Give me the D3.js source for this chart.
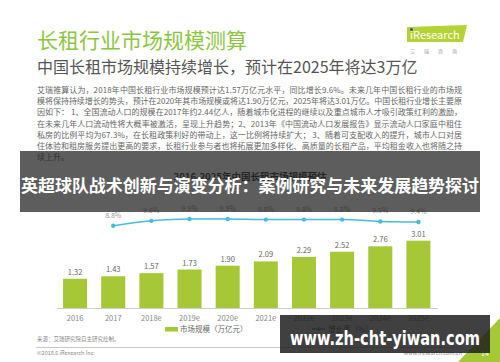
<!DOCTYPE html>
<html>
<head>
<meta charset="utf-8">
<script src="https://cdn.jsdelivr.net/npm/d3@7"></script>
<style>
  body { margin: 0; background: #fff; }
  svg { display: block; }
</style>
</head>
<body>
<div id="chart"></div>
<script>
const width = 500;
const height = 362;
const fontFamily = `"Noto Sans CJK SC", "Noto Sans", sans-serif`;

// chart data
const years = ["2016", "2017", "2018e", "2019e", "2020e", "2021e", "2022e", "2023e", "2024e", "2025e"];
const marketSize = [1.32, 1.43, 1.57, 1.73, 1.90, 2.09, 2.29, 2.52, 2.76, 3.01];
const growthYears = ["2017", "2018e", "2019e", "2020e", "2021e", "2022e", "2023e", "2024e", "2025e"];
const growthRate = [8.8, 9.6, 9.9, 9.9, 9.8, 9.8, 9.8, 9.5, 9.4];

const paragraph = [
  "艾瑞推算认为，2018年中国长租行业市场规模预计达1.57万亿元水平，同比增长9.6%。未来几年中国长租行业的市场规",
  "模将保持持续增长的势头，预计在2020年其市场规模或将达1.90万亿元，2025年将达3.01万亿。中国长租行业增长主要原",
  "因如下： 1、全国流动人口的规模在2017年约2.44亿人，随着城市化进程的继续以及重点城市人才吸引政策红利的激励，",
  "在未来几年人口流动性将大概率被激活，呈现上升趋势；2、2013年《中国流动人口发展报告》显示流动人口家庭中租住",
  "私房的比例平均为67.3%，在长租政策利好的带动上，这一比例将持续扩大； 3、随着可支配收入的提升，城市人口对居",
  "住体验和租房服务提出更高的要求，长租行业参与者也将拓展更加多样化、高质量的长租产品，平均租金收入也将随之持",
  "续上升。",
];

const green = "#a6c836";
const blue = "#45bde0";

const svg = d3.select("#chart")
  .append("svg")
  .attr("width", width)
  .attr("height", height)
  .attr("font-family", fontFamily);

svg.append("rect").attr("width", width).attr("height", height).attr("fill", "#fff");

// header
svg.append("text")
  .attr("x", 37).attr("y", 48)
  .attr("font-size", 21)
  .attr("fill", "#8cc63f")
  .text("长租行业市场规模测算");

svg.append("text")
  .attr("x", 37).attr("y", 73)
  .attr("font-size", 16)
  .attr("fill", "#555")
  .text("中国长租市场规模持续增长，预计在2025年将达3万亿");

// iResearch logo
const logo = svg.append("g").attr("transform", "translate(407, 27)");
logo.append("path")
  .attr("d", "M0,0 L60,-2 L56,15 L0,15 Z")
  .attr("fill", "#b5d334");
logo.append("text")
  .attr("x", 3).attr("y", 12)
  .attr("font-size", 11)
  .attr("fill", "#fff")
  .text("iResearch");
logo.append("circle").attr("cx", 4.5).attr("cy", 2.5).attr("r", 1.5).attr("fill", "#1a5fa8");
logo.append("text")
  .attr("x", 3).attr("y", 26)
  .attr("font-size", 5)
  .attr("fill", "#999")
  .attr("letter-spacing", 9)
  .text("艾瑞咨询");

// body paragraph
svg.append("g")
  .attr("font-size", 8)
  .attr("fill", "#666")
  .selectAll("text")
  .data(paragraph)
  .enter()
  .append("text")
  .attr("x", 37)
  .attr("y", (d, i) => 93 + i * 11.2)
  .attr("textLength", (d, i) => (i < paragraph.length - 1 ? 425 : null))
  .attr("lengthAdjust", "spacing")
  .text((d) => d);

// chart title
svg.append("text")
  .attr("x", 250).attr("y", 180)
  .attr("text-anchor", "middle")
  .attr("font-size", 9.5)
  .attr("font-weight", "bold")
  .attr("fill", "#333")
  .text("2016-2025年中国长租市场规模预估");

// scales
const x = d3.scaleBand()
  .domain(years)
  .range([56, 437.5])
  .paddingInner(0.37)
  .paddingOuter(0.185);

const y = d3.scaleLinear()
  .domain([0, 3.01])
  .range([308.5, 240.7]);

const yGrowth = d3.scaleLinear()
  .domain([8.8, 9.9])
  .range([225.7, 219]);

const cx = (d) => x(d) + x.bandwidth() / 2;

// bars
svg.append("g")
  .selectAll("rect")
  .data(marketSize)
  .enter()
  .append("rect")
  .attr("x", (d, i) => x(years[i]))
  .attr("y", (d) => y(d))
  .attr("width", x.bandwidth())
  .attr("height", (d) => y(0) - y(d))
  .attr("fill", green);

svg.append("g")
  .attr("font-size", 7.5)
  .attr("fill", "#666")
  .attr("text-anchor", "middle")
  .selectAll("text")
  .data(marketSize)
  .enter()
  .append("text")
  .attr("x", (d, i) => cx(years[i]))
  .attr("y", (d) => y(d) - 4)
  .text((d) => d.toFixed(2));

// x axis
const xAxis = svg.append("g")
  .attr("transform", `translate(0, ${y(0)})`)
  .call(d3.axisBottom(x).tickSize(0).tickPadding(7));
xAxis.select(".domain").attr("stroke", "#ccc").attr("d", "M1,0H382").attr("transform", "translate(56,0)");
xAxis.selectAll("text")
  .attr("font-family", fontFamily)
  .attr("font-size", 7.5)
  .attr("fill", "#888");

// growth line
const line = d3.line()
  .x((d, i) => cx(growthYears[i]))
  .y((d) => yGrowth(d))
  .curve(d3.curveMonotoneX);

svg.append("path")
  .datum(growthRate)
  .attr("d", line)
  .attr("fill", "none")
  .attr("stroke", blue)
  .attr("stroke-width", 1.5);

svg.append("g")
  .selectAll("circle")
  .data(growthRate)
  .enter()
  .append("circle")
  .attr("cx", (d, i) => cx(growthYears[i]))
  .attr("cy", (d) => yGrowth(d))
  .attr("r", 2.2)
  .attr("fill", blue);

svg.append("g")
  .attr("font-size", 7)
  .attr("fill", "#999")
  .attr("text-anchor", "middle")
  .selectAll("text")
  .data(growthRate)
  .enter()
  .append("text")
  .attr("x", (d, i) => cx(growthYears[i]))
  .attr("y", (d) => yGrowth(d) - 8)
  .text((d) => d.toFixed(1) + "%");

// legend
const legend = svg.append("g").attr("font-size", 7.5).attr("fill", "#666");
legend.append("rect").attr("x", 165).attr("y", 327).attr("width", 13).attr("height", 4.5).attr("fill", green);
legend.append("text").attr("x", 180).attr("y", 332).text("市场规模（万亿元）");
legend.append("line").attr("x1", 312).attr("x2", 326).attr("y1", 329).attr("y2", 329)
  .attr("stroke", blue).attr("stroke-width", 1.5);
legend.append("circle").attr("cx", 319).attr("cy", 329).attr("r", 2).attr("fill", blue);
legend.append("text").attr("x", 328).attr("y", 332).text("增长率（%）");

// footer
const footer = svg.append("g").attr("font-size", 5.5).attr("fill", "#888");
footer.append("text").attr("x", 37).attr("y", 341).text("来源：艾瑞研究院自主研究绘制。");
footer.append("line").attr("x1", 36).attr("x2", 463).attr("y1", 347.5).attr("y2", 347.5)
  .attr("stroke", "#bbb").attr("stroke-width", 0.8);
footer.append("text").attr("x", 37).attr("y", 355).text("©2018.6 iResearch Inc");
footer.append("text").attr("x", 462).attr("y", 355).attr("text-anchor", "end").text("www.iresearch.com.cn");

svg.append("path")
  .attr("d", "M458,362 L500,318 L500,362 Z")
  .attr("fill", "#a6c836");
svg.append("text")
  .attr("x", 481).attr("y", 356)
  .attr("font-size", 7)
  .attr("fill", "#fff")
  .text("14");

// overlay banners
svg.append("rect")
  .attr("x", 20).attr("y", 151)
  .attr("width", 460).attr("height", 61)
  .attr("fill", "rgba(30,30,30,0.72)");
svg.append("text")
  .attr("x", 250).attr("y", 192)
  .attr("text-anchor", "middle")
  .attr("font-size", 17)
  .attr("font-weight", "bold")
  .attr("fill", "#fff")
  .attr("textLength", 458)
  .attr("lengthAdjust", "spacingAndGlyphs")
  .text("英超球队战术创新与演变分析：案例研究与未来发展趋势探讨");

svg.append("rect")
  .attr("x", 280).attr("y", 315)
  .attr("width", 210).attr("height", 38)
  .attr("fill", "rgba(30,30,30,0.85)");
svg.append("text")
  .attr("x", 290).attr("y", 345)
  .attr("font-family", `"DejaVu Sans", sans-serif`)
  .attr("font-size", 19)
  .attr("font-weight", "bold")
  .attr("fill", "#fff")
  .attr("textLength", 190)
  .attr("lengthAdjust", "spacingAndGlyphs")
  .text("www.zh-cht-yiwan.com");
</script>
</body>
</html>
